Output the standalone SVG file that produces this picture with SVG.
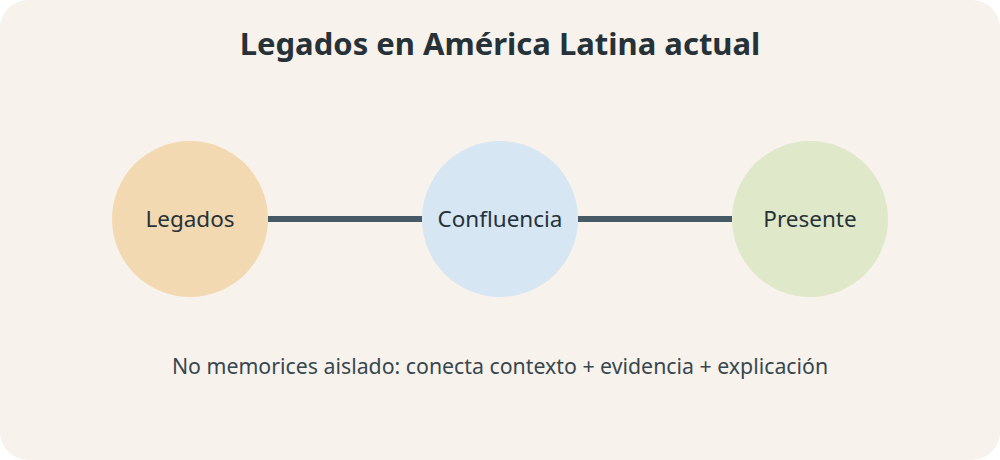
<svg xmlns="http://www.w3.org/2000/svg" width="1000" height="460" viewBox="0 0 1000 460">
<style>
.t{font-family:"Noto Sans","Open Sans",sans-serif;fill:#263238}
.lbl{font-size:22.5px;text-anchor:middle;dominant-baseline:central}
.link{stroke:#455a64;stroke-width:6}
</style>
<rect x="0" y="0" width="1000" height="460" fill="#ffffff"/>
<rect x="0" y="0" width="1000" height="460" rx="28" fill="#f7f2ec"/>
<text class="t" x="500" y="55" font-size="31" font-weight="bold" text-anchor="middle">Legados en América Latina actual</text>
<g id="connectors">
<line class="link" x1="268" y1="219" x2="422" y2="219"/>
<line class="link" x1="578" y1="219" x2="732" y2="219"/>
</g>
<g id="legados">
<circle cx="190" cy="219" r="78" fill="#f3d9b1"/>
<text class="t lbl" x="190" y="218">Legados</text>
</g>
<g id="confluencia">
<circle cx="500" cy="219" r="78" fill="#d6e6f3"/>
<text class="t lbl" x="500" y="218">Confluencia</text>
</g>
<g id="presente">
<circle cx="810" cy="219" r="78" fill="#dfe8c9"/>
<text class="t lbl" x="810" y="218">Presente</text>
</g>
<text class="t" x="500" y="374" font-size="21.3" text-anchor="middle" style="fill:#37474f">No memorices aislado: conecta contexto + evidencia + explicación</text>
</svg>
